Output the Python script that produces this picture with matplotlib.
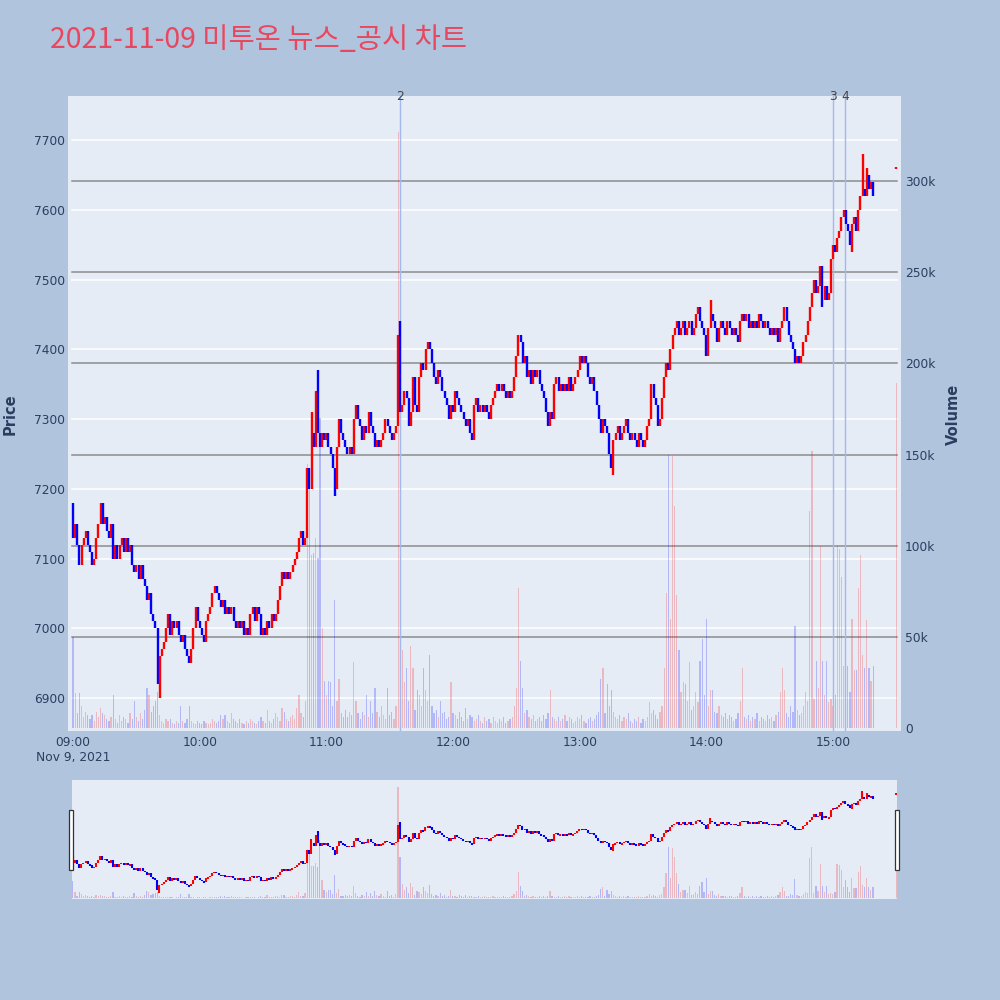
import matplotlib
matplotlib.use("Agg")
import matplotlib.pyplot as plt
from matplotlib.patches import Rectangle

# ---------------- data ----------------
title = "2021-11-09 미투온 뉴스_공시 차트"
first_open = 7180
auction_open = 7660

close = [
    7130, 7150, 7120, 7090, 7120, 7130, 7140, 7120, 7110, 7090,
    7100, 7130, 7150, 7180, 7150, 7160, 7140, 7130, 7150, 7100,
    7120, 7100, 7120, 7130, 7110, 7130, 7110, 7120, 7090, 7080,
    7090, 7070, 7090, 7070, 7060, 7040, 7050, 7020, 7010, 7000,
    6920, 6960, 6970, 6980, 7000, 7020, 6990, 7010, 7000, 7010,
    6990, 6980, 6990, 6970, 6960, 6950, 6970, 7000, 7030, 7010,
    7000, 6990, 6980, 7010, 7020, 7030, 7050, 7060, 7050, 7040,
    7030, 7040, 7020, 7030, 7020, 7030, 7010, 7000, 7010, 7000,
    7010, 6990, 7000, 6990, 7020, 7030, 7010, 7030, 7020, 6990,
    7000, 6990, 7010, 7000, 7020, 7010, 7020, 7040, 7060, 7080,
    7070, 7080, 7070, 7080, 7090, 7100, 7110, 7130, 7140, 7120,
    7130, 7230, 7200, 7280, 7260, 7340, 7280, 7260, 7280, 7270,
    7280, 7260, 7250, 7230, 7200, 7260, 7300, 7280, 7270, 7260,
    7250, 7260, 7250, 7300, 7320, 7300, 7290, 7270, 7290, 7280,
    7310, 7290, 7280, 7260, 7270, 7260, 7270, 7280, 7300, 7290,
    7280, 7270, 7280, 7290, 7420, 7310, 7320, 7340, 7330, 7290,
    7310, 7360, 7320, 7310, 7360, 7380, 7370, 7400, 7410, 7400,
    7380, 7360, 7350, 7370, 7360, 7340, 7330, 7320, 7300, 7320,
    7310, 7340, 7330, 7320, 7310, 7300, 7290, 7300, 7280, 7270,
    7320, 7330, 7310, 7320, 7310, 7320, 7310, 7300, 7320, 7330,
    7340, 7350, 7340, 7350, 7340, 7330, 7340, 7330, 7340, 7360,
    7390, 7420, 7410, 7380, 7390, 7360, 7370, 7350, 7370, 7360,
    7370, 7350, 7340, 7330, 7310, 7290, 7310, 7300, 7350, 7360,
    7340, 7350, 7340, 7350, 7340, 7360, 7340, 7350, 7360, 7370,
    7390, 7380, 7390, 7380, 7360, 7350, 7360, 7340, 7320, 7300,
    7280, 7300, 7290, 7280, 7250, 7230, 7270, 7280, 7290, 7270,
    7280, 7290, 7300, 7280, 7270, 7280, 7270, 7260, 7280, 7270,
    7260, 7270, 7290, 7300, 7350, 7330, 7320, 7290, 7300, 7330,
    7360, 7380, 7370, 7400, 7420, 7430, 7440, 7420, 7430, 7440,
    7420, 7430, 7440, 7420, 7430, 7450, 7460, 7440, 7430, 7420,
    7390, 7430, 7450, 7440, 7430, 7410, 7430, 7440, 7430, 7420,
    7440, 7430, 7420, 7430, 7420, 7410, 7440, 7450, 7440, 7450,
    7430, 7440, 7430, 7440, 7430, 7450, 7440, 7430, 7440, 7430,
    7420, 7430, 7420, 7430, 7410, 7430, 7440, 7460, 7440, 7420,
    7410, 7400, 7380, 7390, 7380, 7390, 7410, 7420, 7440, 7460,
    7480, 7500, 7480, 7490, 7520, 7470, 7490, 7470, 7480, 7530,
    7550, 7540, 7560, 7570, 7590, 7600, 7580, 7570, 7550, 7580,
    7590, 7570, 7600, 7620, 7630, 7620, 7650, 7630, 7640, 7620,
    7660,
]

volume_k = [
    50, 19, 8, 19, 12, 6, 9, 7, 5, 7,
    4, 9, 6, 11, 8, 7, 5, 4, 6, 18,
    5, 3, 7, 4, 6, 5, 3, 8, 5, 15,
    6, 4, 8, 5, 10, 22, 18, 9, 12, 15,
    20, 7, 4, 3, 5, 4, 5, 3, 2, 4,
    3, 12, 4, 3, 5, 12, 4, 3, 2, 4,
    3, 2, 4, 3, 2, 3, 5, 4, 3, 4,
    7, 5, 7, 4, 3, 8, 5, 4, 3, 5,
    3, 2, 4, 3, 5, 4, 3, 2, 4, 6,
    4, 3, 10, 4, 3, 5, 8, 6, 4, 11,
    9, 5, 4, 6, 7, 5, 11, 18, 8, 6,
    15, 145, 140, 95, 96, 104, 93, 170, 55, 26,
    18, 26, 25, 12, 70, 15, 27, 8, 6, 10,
    6, 9, 7, 36, 15, 8, 5, 9, 7, 18,
    6, 15, 8, 22, 9, 6, 12, 7, 5, 22,
    7, 9, 5, 12, 327, 121, 43, 25, 33, 15,
    45, 33, 10, 21, 18, 12, 33, 21, 15, 40,
    12, 8, 10, 6, 15, 8, 9, 5, 6, 25,
    8, 7, 5, 9, 6, 4, 11, 5, 7, 6,
    4, 5, 7, 4, 3, 6, 4, 5, 3, 6,
    4, 3, 5, 4, 6, 3, 4, 5, 6, 12,
    22, 77, 37, 22, 8, 10, 6, 5, 7, 4,
    5, 6, 4, 7, 5, 8, 21, 6, 5, 4,
    6, 4, 5, 7, 4, 6, 5, 3, 4, 6,
    5, 7, 4, 3, 5, 6, 4, 5, 7, 9,
    27, 33, 8, 24, 12, 21, 9, 6, 5, 7,
    4, 6, 5, 8, 4, 3, 5, 4, 6, 3,
    5, 4, 6, 14, 8, 10, 7, 5, 9, 12,
    33, 74, 150, 60, 149, 122, 73, 43, 20, 25,
    24, 15, 36, 10, 12, 20, 14, 37, 49, 18,
    60, 12, 21, 21, 9, 8, 12, 7, 6, 8,
    5, 7, 6, 4, 5, 8, 15, 33, 6, 5,
    7, 4, 6, 5, 8, 4, 6, 5, 4, 7,
    5, 6, 4, 7, 9, 20, 33, 21, 8, 6,
    12, 9, 56, 10, 7, 8, 12, 20, 15, 119,
    152, 16, 37, 22, 100, 37, 18, 37, 14, 16,
    12, 18, 100, 98, 83, 34, 54, 34, 20, 60,
    32, 32, 77, 95, 40, 33, 59, 33, 26, 34,
    189,
]

# minutes after 09:00 (continuous trading 09:00-15:19, closing auction 15:30)
minutes = list(range(380)) + [390]

wick_high = {0: 7180, 113: 7310, 116: 7370, 155: 7440, 168: 7410,
             211: 7420, 302: 7470, 374: 7680, 376: 7660}
wick_low = {41: 6900, 124: 7190, 189: 7270, 256: 7220, 300: 7390,
            342: 7380, 355: 7460, 369: 7540}

news_minutes = [154.9, 360.0, 365.7]
news_labels = ["2", "3", "4"]

time_ticks = [0, 60, 120, 180, 240, 300, 360]
time_labels = ["09:00", "10:00", "11:00", "12:00", "13:00", "14:00", "15:00"]
price_ticks = [6900, 7000, 7100, 7200, 7300, 7400, 7500, 7600, 7700]
vol_ticks = [0, 50, 100, 150, 200, 250, 300]
vol_labels = ["0", "50k", "100k", "150k", "200k", "250k", "300k"]

# ---------------- style ----------------
PAPER = "#B0C4DE"
PLOT_BG = "#E5ECF6"
TXT = "#2a3f5f"
UP = "#FF0000"
DOWN = "#0000FF"
UP_V = (1.0, 0.0, 0.0, 0.22)
DOWN_V = (0.0, 0.0, 1.0, 0.22)

XMIN, XMAX = -2.4, 392.2
PMIN, PMAX = 6852.7, 7763.1
VMIN, VMAX = -1.65, 346.7

opens = [first_open] + close[:-2] + [auction_open]
highs, lows, cols, vcols = [], [], [], []
for i, (m, o, c) in enumerate(zip(minutes, opens, close)):
    hi = max(o, c, wick_high.get(m, 0))
    lo = min(o, c, wick_low.get(m, 99999))
    if hi - lo < 5:
        hi += 2
        lo -= 2
    up = c >= o
    highs.append(hi)
    lows.append(lo)
    cols.append(UP if up else DOWN)
    vcols.append(UP_V if up else DOWN_V)

fig = plt.figure(figsize=(10, 10), dpi=100, facecolor=PAPER)


def rect(l, t, r, b):
    return [l / 1000, 1 - b / 1000, (r - l) / 1000, (b - t) / 1000]


# ---- main panel ----
ax = fig.add_axes(rect(68, 96, 901, 731))
ax.set_facecolor(PLOT_BG)
ax.set_xlim(XMIN, XMAX)
ax.set_ylim(PMIN, PMAX)
for s in ax.spines.values():
    s.set_visible(False)
gx0, gx1 = (72 - 68) / 833, (897 - 68) / 833
for p in price_ticks:
    ax.axhline(p, gx0, gx1, color="white", lw=1.1, zorder=0)
ax.set_yticks(price_ticks)
ax.set_yticklabels([str(p) for p in price_ticks])
ax.set_xticks(time_ticks)
ax.set_xticklabels(time_labels)
ax.tick_params(axis="y", length=0, pad=2, labelsize=8.8, labelcolor=TXT)
ax.tick_params(axis="x", length=0, pad=3.5, labelsize=8.8, labelcolor=TXT)

ax_v = ax.twinx()
ax_v.set_ylim(VMIN, VMAX)
ax_v.set_xlim(XMIN, XMAX)
for s in ax_v.spines.values():
    s.set_visible(False)
for v in vol_ticks[1:]:
    ax_v.axhline(v, gx0, gx1, color="#8c8c8c", lw=1.1, zorder=0)
ax_v.bar(minutes, volume_k, width=0.6, color=vcols, zorder=1, linewidth=0)
for nm in news_minutes:
    ax_v.axvline(nm, color=(0.64, 0.72, 0.93), lw=1.0, zorder=2)
ax_v.set_yticks(vol_ticks)
ax_v.set_yticklabels(vol_labels)
ax_v.tick_params(axis="y", length=0, pad=3, labelsize=8.8, labelcolor=TXT)

ax_c = ax.twinx()
ax_c.set_ylim(PMIN, PMAX)
ax_c.set_xlim(XMIN, XMAX)
ax_c.set_axis_off()
ax_c.vlines(minutes, lows, highs, colors=cols, lw=1.7, zorder=3)

for nm, lab in zip(news_minutes, news_labels):
    ax_c.text(nm, 1.0, lab, transform=ax_c.get_xaxis_transform(),
              ha="center", va="center", fontsize=8.8, color="#444444",
              clip_on=False)

fig.text(73 / 1000, 1 - 757 / 1000, "Nov 9, 2021", ha="center", va="center",
         fontsize=8.8, color=TXT)
fig.text(10 / 1000, 1 - 414 / 1000, "Price", rotation=90, ha="center",
         va="center", fontsize=10.5, fontweight="bold", color=TXT)
fig.text(953 / 1000, 1 - 414 / 1000, "Volume", rotation=90, ha="center",
         va="center", fontsize=10.5, fontweight="bold", color=TXT)
fig.text(50 / 1000, 1 - 40 / 1000, title, ha="left", va="center",
         fontsize=20.5, color="#E8485F",
         family=["Noto Sans CJK KR", "DejaVu Sans"])

# ---- range slider ----
SX0, SX1 = -0.4, 390.4
axs = fig.add_axes(rect(72, 780, 897, 899))
axs.set_facecolor(PLOT_BG)
axs.set_xlim(SX0, SX1)
axs.set_ylim(VMIN, VMAX)
axs.set_xticks([])
axs.set_yticks([])
for s in axs.spines.values():
    s.set_visible(False)
axs.bar(minutes, volume_k, width=0.6, color=vcols, linewidth=0)
axs2 = axs.twinx()
axs2.set_ylim(PMIN, PMAX)
axs2.set_xlim(SX0, SX1)
axs2.set_axis_off()
s_lows = [min(l, h - 12) for l, h in zip(lows, highs)]
axs2.vlines(minutes, s_lows, highs, colors=cols, lw=1.5)

for hx in (69, 895):
    fig.patches.append(Rectangle((hx / 1000, 1 - 870 / 1000), 4 / 1000, 60 / 1000,
                                 transform=fig.transFigure, facecolor="white",
                                 edgecolor="#333333", lw=0.9, zorder=5))

fig.savefig("out.png", dpi=100, facecolor=PAPER)
